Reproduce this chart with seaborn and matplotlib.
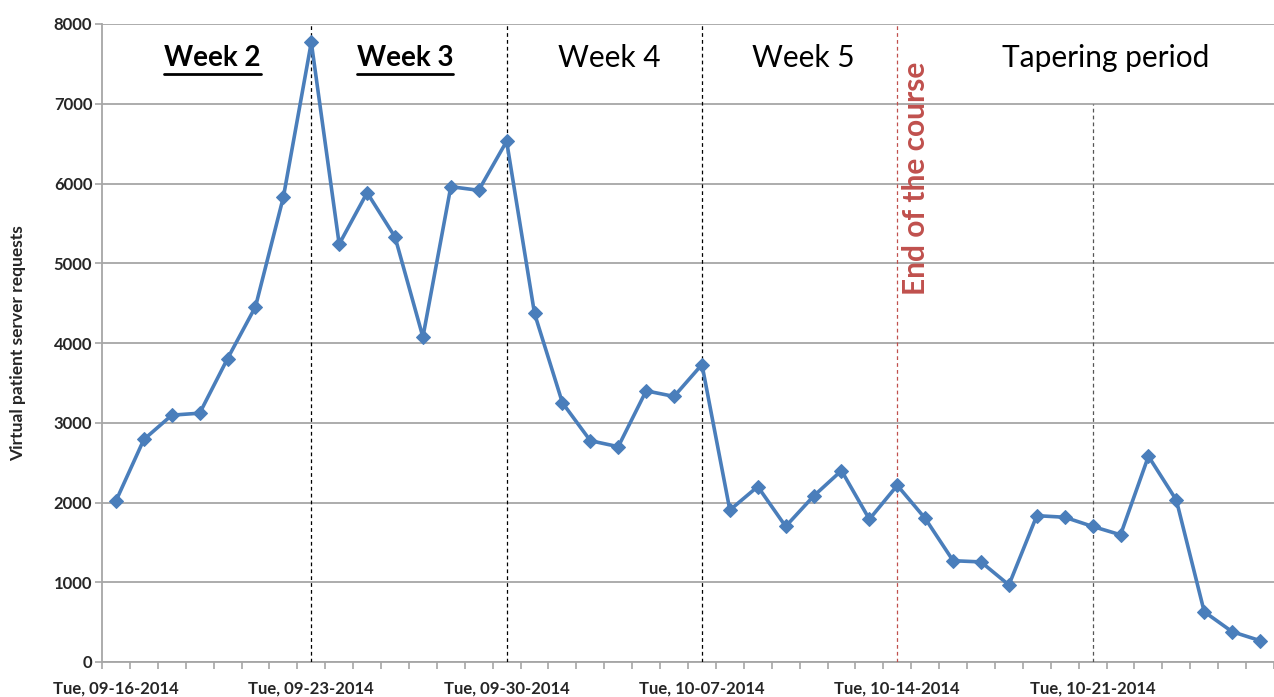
import matplotlib
matplotlib.use("Agg")
import matplotlib.pyplot as plt
import seaborn as sns
import pandas as pd
import numpy as np

dates = pd.date_range("2014-09-16", "2014-10-27", freq="D")
requests = [2020, 2790, 3095, 3120, 3805, 4455, 5830, 7770, 5240, 5885, 5330,
            4075, 5960, 5915, 6530, 4370, 3250, 2775, 2700, 3400, 3330, 3730,
            1905, 2200, 1700, 2080, 2400, 1790, 2215, 1800, 1270, 1255, 966,
            1835, 1815, 1700, 1595, 2580, 2030, 630, 380, 268]
week_labels = ["Week 2", "Week 3", "Week 4", "Week 5", "Tapering period"]
divider_dates = ["2014-09-23", "2014-09-30", "2014-10-07"]
end_course_date = "2014-10-14"
taper_mark_date = "2014-10-21"
yticks = [0, 1000, 2000, 3000, 4000, 5000, 6000, 7000, 8000]

df = pd.DataFrame({"idx": np.arange(len(dates)), "requests": requests})
date_index = {d.strftime("%Y-%m-%d"): i for i, d in enumerate(dates)}

sns.set_theme(style="white")
plt.rcParams['font.family'] = ['Lato', 'DejaVu Sans']

fig = plt.figure(figsize=(12.74, 6.97), dpi=100)
ax = fig.add_axes([102 / 1274, 1 - 662 / 697, 1 - 102 / 1274, (662 - 24) / 697])

sns.lineplot(data=df, x="idx", y="requests", ax=ax, color="#4A7EBB", linewidth=2.6,
             marker="D", markersize=7.5, markeredgecolor="#4A7EBB", zorder=5)

ax.set_xlim(-0.5, len(dates) - 0.5 - 0.08)
ax.set_ylim(0, 8000)
ax.set_yticks(yticks)
ax.set_yticklabels([str(v) for v in yticks], fontweight="bold", fontsize=12)
ax.grid(axis="y", color="#A6A6A6", linewidth=1.3)
ax.grid(axis="x", visible=False)
for s in ["top", "right"]:
    ax.spines[s].set_visible(False)
for s in ["left", "bottom"]:
    ax.spines[s].set_color("#A6A6A6")
    ax.spines[s].set_linewidth(1.3)

# category ticks between days
ax.set_xticks(np.arange(-0.5, len(dates) - 0.4, 1.0), minor=True)
ax.tick_params(axis="x", which="minor", length=5, color="#A6A6A6", width=1.2, direction="out", bottom=True)
label_idx = list(range(0, len(dates), 7))
ax.set_xticks(label_idx)
ax.set_xticklabels(["Tue, " + dates[i].strftime("%m-%d-%Y") for i in label_idx],
                   fontweight="bold", fontsize=12)
ax.tick_params(axis="x", which="major", length=0, pad=13)
ax.tick_params(axis="y", length=5, color="#A6A6A6", width=1.2, direction="out", left=True, pad=2)
ax.set_xlabel("")
ax.set_ylabel("Virtual patient server requests", fontweight="bold", fontsize=12.5, labelpad=20)

for d in divider_dates:
    ax.axvline(date_index[d], color="black", linestyle=(0, (3, 2.5)), linewidth=0.9, zorder=3)
ax.axvline(date_index[end_course_date], color="#C0504D", linestyle=(0, (3, 2.5)), linewidth=0.9, zorder=3)
ax.plot([date_index[taper_mark_date]] * 2, [0, 7000], color="#555555",
        linestyle=(0, (3, 2.5)), linewidth=0.9, zorder=3)

week_x = [3.46, 10.36, 17.66, 24.63, 35.47]
for i, (lab, x) in enumerate(zip(week_labels, week_x)):
    bold = i < 2
    t = ax.text(x, 7570, lab, ha="center", va="center", fontsize=20 if bold else 21.5,
                fontweight="bold" if bold else "normal", color="black", zorder=6)
    if bold:
        fig.canvas.draw()
        bb = t.get_window_extent()
        inv = ax.transData.inverted()
        (x0, y0), (x1, y1) = inv.transform([(bb.x0, bb.y0), (bb.x1, bb.y0)])
        ax.plot([x0, x1], [y0 - 30, y0 - 30], color="black", linewidth=2, zorder=6)

ax.text(28.67, 6060, "End of the course", rotation=90,
        ha="center", va="center", fontsize=21.5, fontweight="bold", color="#C0504D", zorder=6)

fig.savefig("out.png", dpi=100)
